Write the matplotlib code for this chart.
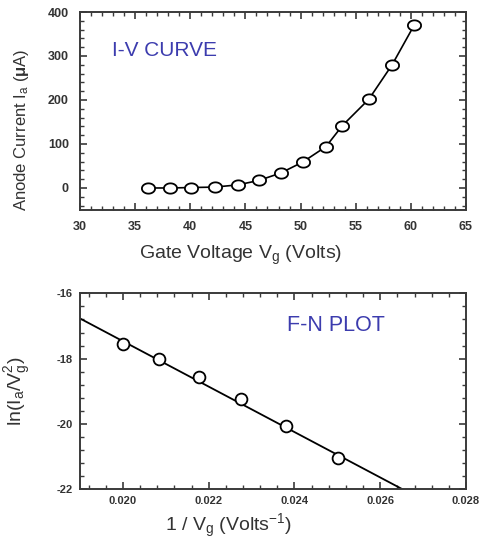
import numpy as np
import matplotlib
matplotlib.use("Agg")
import matplotlib.pyplot as plt
from matplotlib.path import Path
from matplotlib.ticker import MultipleLocator, FormatStrFormatter

plt.rcParams['font.family'] = ['Liberation Sans', 'DejaVu Sans']
plt.rcParams['mathtext.fontset'] = 'custom'
plt.rcParams['mathtext.rm'] = 'Liberation Sans'
plt.rcParams['mathtext.it'] = 'Liberation Sans'
plt.rcParams['mathtext.bf'] = 'Liberation Sans:bold'
plt.rcParams['axes.unicode_minus'] = False

# I-V data
gate_v = [36.2, 38.2, 40.1, 42.2, 44.3, 46.2, 48.2, 50.2, 52.3, 53.8, 56.2, 58.3, 60.3]
anode_i = [0, 0, 1, 2, 7, 17, 34, 59, 94, 142, 202, 280, 370]

# F-N data
inv_v = [0.0200, 0.02084, 0.02177, 0.02275, 0.0238, 0.02501]
ln_iv2 = [-17.56, -18.01, -18.55, -19.24, -20.05, -21.05]
fit_x = [0.0190, 0.02655]
fit_y = [-16.77, -22.02]

title_col = '#3c3cae'
spine_col = '#3a3a3a'
text_col = '#333333'

# slightly flattened circle marker
t = np.linspace(0, 2 * np.pi, 60)
oval = Path(np.column_stack([np.cos(t), 0.78 * np.sin(t)]))

fig = plt.figure(figsize=(4.84, 5.53), dpi=100)
ax1 = fig.add_axes([0.1653, 0.6203, 0.7975, 0.358])
ax2 = fig.add_axes([0.1653, 0.1152, 0.7975, 0.3544])

def style(ax, size, pad):
    for s in ax.spines.values():
        s.set_color(spine_col)
        s.set_linewidth(1.4)
    ax.tick_params(which='both', direction='in', top=True, right=True,
                   color=spine_col, labelsize=size, pad=pad)
    ax.tick_params(which='major', length=5, width=1.2)
    ax.tick_params(which='minor', length=3, width=1.0)
    for lab in ax.get_xticklabels() + ax.get_yticklabels():
        lab.set_fontweight('bold')
        lab.set_color(text_col)

ax1.plot(gate_v, anode_i, color='black', lw=1.2, marker=oval, ms=9.5,
         mfc='white', mec='black', mew=1.3)
ax1.set_xlim(30, 65)
ax1.set_ylim(-50, 400)
ax1.xaxis.set_major_locator(MultipleLocator(5))
ax1.xaxis.set_minor_locator(MultipleLocator(1))
ax1.yaxis.set_major_locator(MultipleLocator(100))
ax1.yaxis.set_minor_locator(MultipleLocator(20))
style(ax1, 9, 8)
ax1.set_xlabel(r'Gate Voltage V$_\mathregular{g}$ (Volts)',
               fontsize=14, color=text_col)
ax1.xaxis.set_label_coords(0.415, -0.17)
ax1.set_ylabel(r'Anode Current I$_\mathregular{a}$ ($\mathbf{\mu}$A)',
               fontsize=12, color=text_col)
ax1.yaxis.set_label_coords(-0.127, 0.404)
ax1.text(0.083, 0.808, 'I-V CURVE', transform=ax1.transAxes, fontsize=15,
         color=title_col, va='center')

ax2.plot(fit_x, fit_y, color='black', lw=1.3)
ax2.plot(inv_v, ln_iv2, ls='none', marker='o', ms=8.5, mfc='white',
         mec='black', mew=1.3)
ax2.set_xlim(0.019, 0.028)
ax2.set_ylim(-22, -16)
ax2.xaxis.set_major_locator(MultipleLocator(0.002))
ax2.xaxis.set_minor_locator(MultipleLocator(0.0004))
ax2.yaxis.set_major_locator(MultipleLocator(2))
ax2.yaxis.set_minor_locator(MultipleLocator(0.4))
ax2.xaxis.set_major_formatter(FormatStrFormatter('%.3f'))
style(ax2, 8, 5)
ax2.set_xlabel(r'1 / V$_\mathregular{g}$ (Volts$^\mathregular{-1}$)',
               fontsize=14, color=text_col)
ax2.xaxis.set_label_coords(0.386, -0.115)
ax2.set_ylabel(r'ln(I$_\mathregular{a}$/V$_\mathregular{g}^\mathregular{2}$)',
               fontsize=14, color=text_col)
ax2.yaxis.set_label_coords(-0.122, 0.5)
ax2.text(0.536, 0.838, 'F-N PLOT', transform=ax2.transAxes, fontsize=15.5,
         color=title_col, va='center')

fig.savefig('out.png', dpi=100)
